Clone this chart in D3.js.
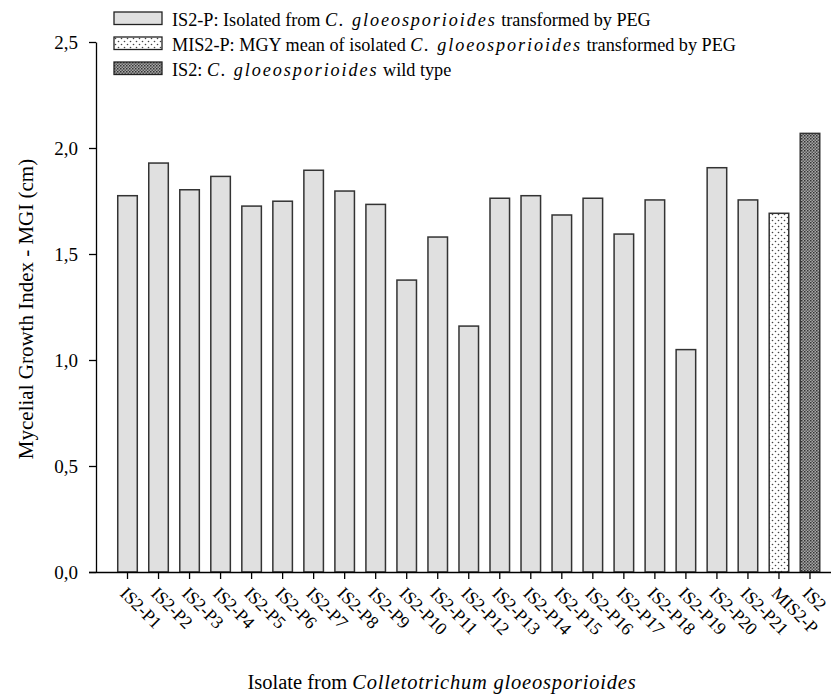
<!DOCTYPE html>
<html>
<head>
<meta charset="utf-8">
<script src="https://cdn.jsdelivr.net/npm/d3@7"></script>
<style>
  body { margin: 0; background: #fff; }
  svg { display: block; }
  svg text { font-family: "Liberation Serif", "Times New Roman", serif; fill: #000; }
  .bar { stroke: #333; stroke-width: 1.5; }
  .axis path, .axis line { stroke: #000; stroke-width: 1.3; }
</style>
</head>
<body>
<div id="chart"></div>
<script>
// isolates, in drawing order
var isolates = ["IS2-P1", "IS2-P2", "IS2-P3", "IS2-P4", "IS2-P5", "IS2-P6", "IS2-P7",
    "IS2-P8", "IS2-P9", "IS2-P10", "IS2-P11", "IS2-P12", "IS2-P13", "IS2-P14", "IS2-P15",
    "IS2-P16", "IS2-P17", "IS2-P18", "IS2-P19", "IS2-P20", "IS2-P21", "MIS2-P", "IS2"];
// mycelial growth index (cm)
var mgi = [1.775, 1.929, 1.803, 1.866, 1.726, 1.749, 1.895, 1.797, 1.734, 1.377, 1.580,
    1.160, 1.763, 1.775, 1.684, 1.763, 1.594, 1.755, 1.049, 1.907, 1.755, 1.692, 2.069];
// which legend group each bar belongs to
var groups = ["P", "P", "P", "P", "P", "P", "P", "P", "P", "P", "P", "P", "P", "P", "P",
    "P", "P", "P", "P", "P", "P", "M", "W"];
var yTicks = [0, 0.5, 1.0, 1.5, 2.0, 2.5];
var legendItems = [
    { key: "P", pre: "IS2-P: Isolated from ", it: "C. gloeosporioides", post: " transformed by PEG" },
    { key: "M", pre: "MIS2-P: MGY mean of isolated ", it: "C. gloeosporioides", post: " transformed by PEG" },
    { key: "W", pre: "IS2: ", it: "C. gloeosporioides", post: " wild type" }
];

var width = 831, height = 699;
var svg = d3.select("#chart").append("svg")
    .attr("width", width)
    .attr("height", height);

// fill patterns
var defs = svg.append("defs");
var sparse = defs.append("pattern")
    .attr("id", "dots-sparse").attr("patternUnits", "userSpaceOnUse")
    .attr("width", 6).attr("height", 6);
sparse.append("rect").attr("width", 6).attr("height", 6).attr("fill", "#fff");
sparse.append("circle").attr("cx", 1.5).attr("cy", 1.5).attr("r", 0.8).attr("fill", "#444");
sparse.append("circle").attr("cx", 4.5).attr("cy", 4.5).attr("r", 0.8).attr("fill", "#444");
var dense = defs.append("pattern")
    .attr("id", "dots-dense").attr("patternUnits", "userSpaceOnUse")
    .attr("width", 3).attr("height", 3);
dense.append("rect").attr("width", 3).attr("height", 3).attr("fill", "#a8a8a8");
dense.append("rect").attr("x", 0).attr("y", 0).attr("width", 1.5).attr("height", 1.5).attr("fill", "#333");
dense.append("rect").attr("x", 1.5).attr("y", 1.5).attr("width", 1.5).attr("height", 1.5).attr("fill", "#555");

var fills = { P: "#e0e0e0", M: "url(#dots-sparse)", W: "url(#dots-dense)" };

var x = d3.scaleBand()
    .domain(isolates)
    .range([112, 825.5])
    .paddingInner(0.37)
    .paddingOuter(0.185);
var y = d3.scaleLinear()
    .domain([0, 2.5])
    .range([572, 42]);

// bars
svg.selectAll(".bar")
    .data(isolates).enter().append("rect")
    .attr("class", "bar")
    .attr("x", function(d) { return x(d); })
    .attr("width", x.bandwidth())
    .attr("y", function(d, i) { return y(mgi[i]); })
    .attr("height", function(d, i) { return y(0) - y(mgi[i]); })
    .attr("fill", function(d, i) { return fills[groups[i]]; });

// y axis
var comma = function(v) { return d3.format(".1f")(v).replace(".", ","); };
var yAxis = svg.append("g")
    .attr("class", "axis")
    .attr("transform", "translate(96,0)")
    .call(d3.axisLeft(y).tickValues(yTicks).tickSize(7).tickSizeOuter(0).tickFormat(comma));
yAxis.attr("font-family", null).attr("font-size", null);
yAxis.selectAll("text")
    .attr("x", -18)
    .attr("dy", "0.36em")
    .style("font-size", "19px");

// x axis
var xAxis = svg.append("g")
    .attr("class", "axis")
    .attr("transform", "translate(0,572)")
    .call(d3.axisBottom(x).tickSize(7).tickSizeOuter(0));
xAxis.attr("font-family", null).attr("font-size", null);
xAxis.select(".domain").attr("d", "M89,0.5H831");
xAxis.selectAll("text")
    .attr("y", 0).attr("x", 0).attr("dy", "0.35em")
    .attr("text-anchor", "start")
    .attr("transform", "translate(-4,18) rotate(45)")
    .style("font-size", "18px");

// axis titles
svg.append("text")
    .attr("transform", "translate(33,309) rotate(-90)")
    .attr("text-anchor", "middle")
    .style("font-size", "21px")
    .text("Mycelial Growth Index - MGI (cm)");

var xt = svg.append("text")
    .attr("x", 442).attr("y", 689)
    .attr("text-anchor", "middle")
    .style("font-size", "20.5px");
xt.append("tspan").text("Isolate from ");
xt.append("tspan").style("font-style", "italic").style("letter-spacing", "0.8px")
    .text("Colletotrichum gloeosporioides");

// legend
var legend = svg.append("g").attr("transform", "translate(114,12)");
var row = legend.selectAll(".row")
    .data(legendItems).enter().append("g")
    .attr("class", "row")
    .attr("transform", function(d, i) { return "translate(0," + (i * 25) + ")"; });
row.append("rect")
    .attr("width", 48).attr("height", 12.5)
    .attr("fill", function(d) { return fills[d.key]; })
    .attr("stroke", "#222").attr("stroke-width", 1.3);
var lt = row.append("text")
    .attr("x", 58).attr("y", 14)
    .style("font-size", "18.2px");
lt.append("tspan").text(function(d) { return d.pre; });
lt.append("tspan").style("font-style", "italic").style("letter-spacing", "1.9px")
    .text(function(d) { return d.it; });
lt.append("tspan").text(function(d) { return d.post; });
</script>
</body>
</html>
